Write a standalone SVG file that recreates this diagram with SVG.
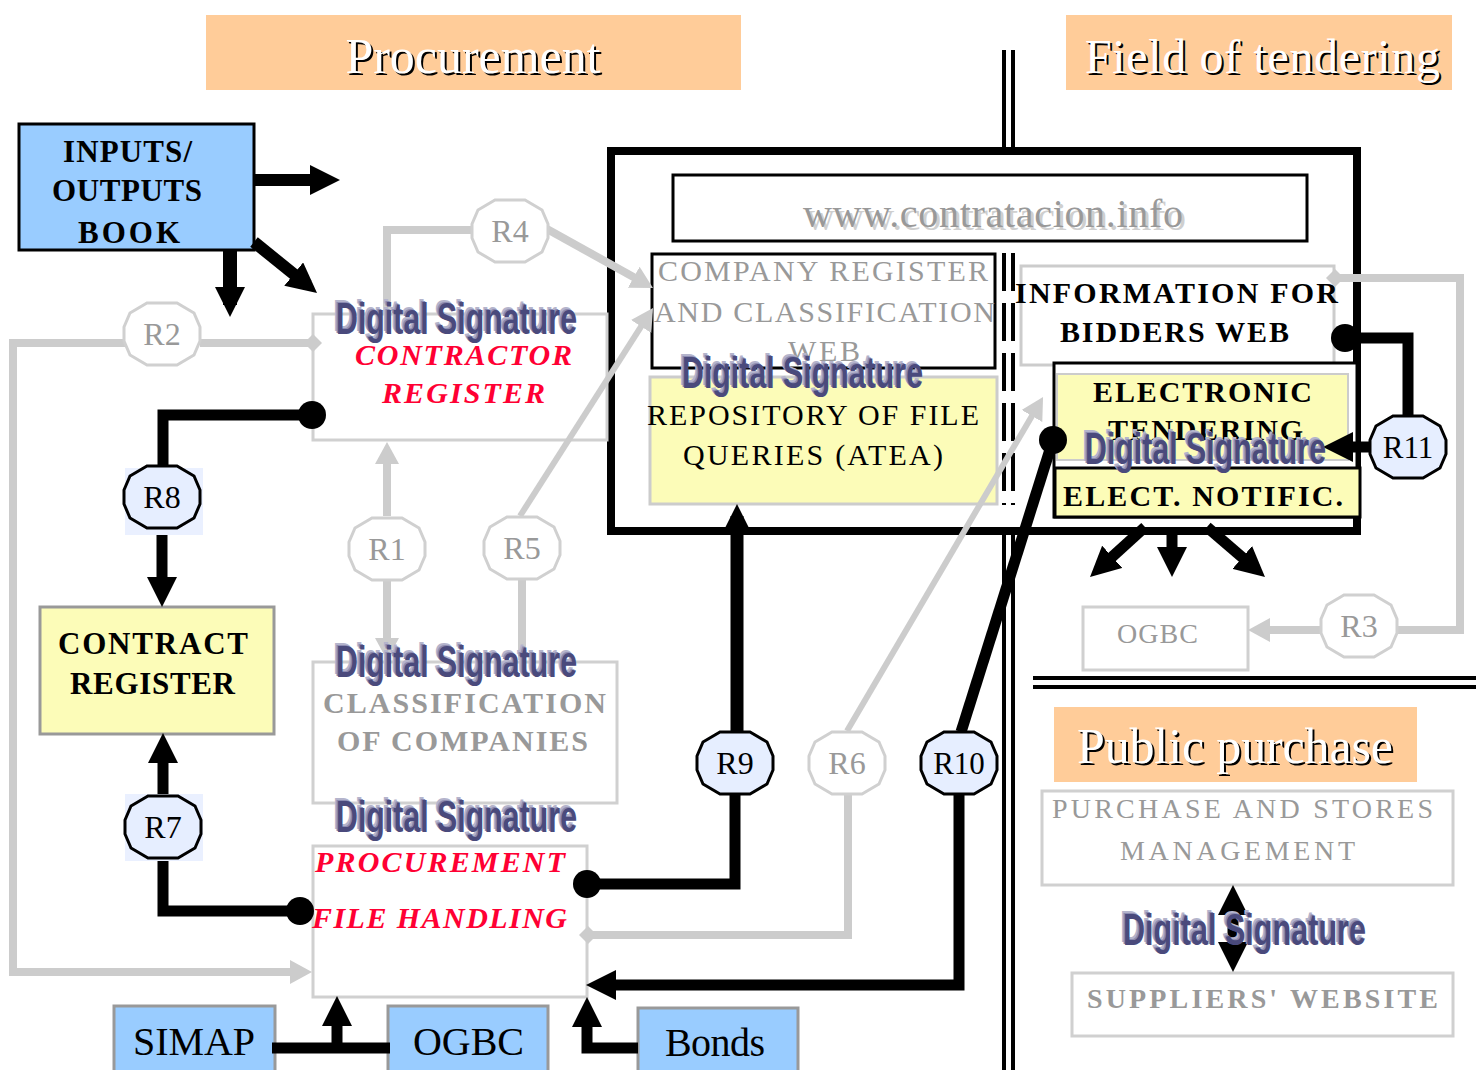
<svg xmlns="http://www.w3.org/2000/svg" xmlns:xlink="http://www.w3.org/1999/xlink" width="1476" height="1070" viewBox="0 0 1476 1070">
<defs>
<style>
.sf{font-family:"Liberation Serif","Times New Roman",serif}
.b{font-weight:bold}
.red{fill:#FF0033;font-weight:bold;font-style:italic}
.gt{fill:#999999}
.hdr{fill:#FFCC99}
.ht{font-family:"Liberation Serif","Times New Roman",serif;font-size:50px}
.bk{fill:none;stroke:#000;stroke-width:11}
.gr{fill:none;stroke:#CCCCCC;stroke-width:8}
.ds{font-family:"Liberation Sans Narrow","Liberation Sans",Arial,sans-serif;font-weight:bold;font-size:44px}
.ds1{fill:#B4B4CC}
.ds2{fill:#8C8CB2}
.ds3{fill:#4A4A7C}
.rb{fill:#E6EEFF;stroke:#000;stroke-width:3}
.rg{fill:#fff;stroke:#D0D0D0;stroke-width:3}
.ol{font-family:"Liberation Serif","Times New Roman",serif;font-size:32px;text-anchor:middle}
.div{stroke:#000;stroke-width:4;fill:none}
</style>
<polygon id="oct" points="-15,-31 15,-31 32,-21 38,-7 38,7 32,21 15,31 -15,31 -32,21 -38,7 -38,-7 -32,-21"/>
<marker id="ah" markerUnits="userSpaceOnUse" markerWidth="30" markerHeight="30" refX="18" refY="15" orient="auto-start-reverse" viewBox="0 0 30 30">
<path d="M0,0 L30,15 L0,30 z" fill="#000"/>
</marker>
<marker id="gah" markerUnits="userSpaceOnUse" markerWidth="22" markerHeight="24" refX="14" refY="12" orient="auto" viewBox="0 0 22 24">
<path d="M0,0 L22,12 L0,24 z" fill="#CCCCCC"/>
</marker>
<marker id="dot" markerUnits="userSpaceOnUse" markerWidth="30" markerHeight="30" refX="15" refY="15" viewBox="0 0 30 30">
<circle cx="15" cy="15" r="14" fill="#000"/>
</marker>
<marker id="gdot" markerUnits="userSpaceOnUse" markerWidth="20" markerHeight="20" refX="10" refY="10" viewBox="0 0 20 20">
<path d="M10,1 L19,10 L10,19 L1,10 z" fill="#CCCCCC"/>
</marker>
</defs>
<rect x="0" y="0" width="1476" height="1070" fill="#fff"/>

<g id="headers">
<rect class="hdr" x="206" y="15" width="535" height="75"/>
<text class="ht" x="475" y="75" text-anchor="middle" fill="#000" textLength="255">Procurement</text>
<text class="ht" x="473" y="73" text-anchor="middle" fill="#fff" textLength="255">Procurement</text>
<rect class="hdr" x="1066" y="15" width="386" height="75"/>
<text class="ht" x="1087" y="75" fill="#000" textLength="355" style="font-size:48px">Field of tendering</text>
<text class="ht" x="1085" y="73" fill="#fff" textLength="355" style="font-size:48px">Field of tendering</text>
<rect class="hdr" x="1054" y="707" width="363" height="75"/>
<text class="ht" x="1079" y="765" fill="#000" textLength="316">Public purchase</text>
<text class="ht" x="1077" y="763" fill="#fff" textLength="316">Public purchase</text>
</g>

<g id="dividers">
<line class="div" x1="1004" y1="50" x2="1004" y2="152"/>
<line class="div" x1="1013" y1="50" x2="1013" y2="152"/>
<line class="div" x1="1004" y1="253" x2="1004" y2="505" stroke-dasharray="38 12"/>
<line class="div" x1="1013" y1="253" x2="1013" y2="505" stroke-dasharray="38 12"/>
<line class="div" x1="1004" y1="532" x2="1004" y2="1070"/>
<line class="div" x1="1013" y1="532" x2="1013" y2="1070"/>
<line class="div" x1="1033" y1="678" x2="1476" y2="678"/>
<line class="div" x1="1033" y1="687" x2="1476" y2="687"/>
</g>

<g id="tendering-frame">
<rect x="611" y="151" width="746" height="380" fill="none" stroke="#000" stroke-width="8"/>
</g>

<g id="contratacion">
<rect x="673" y="175" width="634" height="66" fill="#fff" stroke="#000" stroke-width="3"/>
<text class="sf" x="806" y="230" font-size="40" fill="#CFCFCF" textLength="380">www.contratacion.info</text>
<text class="sf gt" x="803" y="227" font-size="40" textLength="380">www.contratacion.info</text>
</g>

<g id="company-register-web">
<rect x="652" y="254" width="343" height="114" fill="#fff" stroke="#000" stroke-width="3"/>
<text class="sf gt" font-size="30" x="658" y="281" textLength="330">COMPANY REGISTER</text>
<text class="sf gt" font-size="30" x="654" y="322" textLength="341">AND CLASSIFICATION</text>
<text class="sf gt" font-size="30" x="788" y="361" textLength="72">WEB</text>
</g>

<g id="repository">
<rect x="650" y="377" width="347" height="127" fill="#FCFCB8" stroke="#CCCCCC" stroke-width="3"/>
<text class="sf" font-size="30" x="647" y="425" textLength="332">REPOSITORY OF FILE</text>
<text class="sf" font-size="30" x="683" y="465" textLength="260">QUERIES (ATEA)</text>
</g>

<g id="information-bidders">
<rect x="1021" y="266" width="313" height="99" fill="#fff" stroke="#CCCCCC" stroke-width="3"/>
<text class="sf b" font-size="30" x="1015" y="303" textLength="323">INFORMATION FOR</text>
<text class="sf b" font-size="30" x="1060" y="342" textLength="229">BIDDERS WEB</text>
</g>

<g id="electronic-tendering">
<rect x="1054" y="363" width="303" height="154" fill="#fff" stroke="#000" stroke-width="3"/>
<rect x="1057" y="374" width="291" height="86" fill="#FCFCB8" stroke="#CCCCCC" stroke-width="2"/>
<text class="sf b" font-size="30" x="1093" y="402" textLength="219">ELECTRONIC</text>
<text class="sf b" font-size="30" x="1108" y="440" textLength="195">TENDERING</text>
</g>

<g id="elect-notific">
<rect x="1055" y="468" width="305" height="49" fill="#FCFCB8" stroke="#000" stroke-width="3"/>
<text class="sf b" font-size="30" x="1063" y="506" textLength="280">ELECT. NOTIFIC.</text>
</g>

<g id="ogbc-right">
<rect x="1083" y="607" width="165" height="63" fill="#fff" stroke="#D0D0D0" stroke-width="3"/>
<text class="sf gt" font-size="28" x="1117" y="643" textLength="81">OGBC</text>
</g>

<g id="purchase-stores">
<rect x="1042" y="791" width="411" height="94" fill="#fff" stroke="#D0D0D0" stroke-width="3"/>
<text class="sf gt" font-size="28" x="1052" y="818" textLength="381">PURCHASE AND STORES</text>
<text class="sf gt" font-size="28" x="1120" y="860" textLength="235">MANAGEMENT</text>
</g>

<g id="suppliers-website">
<rect x="1072" y="973" width="381" height="63" fill="#fff" stroke="#D0D0D0" stroke-width="3"/>
<text class="sf gt b" font-size="28" x="1087" y="1008" textLength="351">SUPPLIERS' WEBSITE</text>
</g>

<g id="inputs-outputs-book">
<rect x="19" y="124" width="235" height="126" fill="#99CCFF" stroke="#000" stroke-width="3"/>
<text class="sf b" font-size="31" x="63" y="162" textLength="129">INPUTS/</text>
<text class="sf b" font-size="31" x="52" y="201" textLength="150">OUTPUTS</text>
<text class="sf b" font-size="31" x="78" y="243" textLength="102">BOOK</text>
</g>

<g id="contractor-register">
<rect x="313" y="314" width="294" height="126" fill="#fff" stroke="#D0D0D0" stroke-width="3"/>
<text class="sf red" font-size="30" x="355" y="365" textLength="217">CONTRACTOR</text>
<text class="sf red" font-size="30" x="382" y="403" textLength="163">REGISTER</text>
</g>

<g id="contract-register">
<rect x="40" y="607" width="234" height="127" fill="#FCFCB8" stroke="#999999" stroke-width="3"/>
<text class="sf b" font-size="31" x="58" y="654" textLength="190">CONTRACT</text>
<text class="sf b" font-size="31" x="70" y="694" textLength="165">REGISTER</text>
</g>

<g id="classification-companies">
<rect x="313" y="662" width="304" height="141" fill="#fff" stroke="#D0D0D0" stroke-width="3"/>
<text class="sf gt b" font-size="30" x="323" y="713" textLength="283">CLASSIFICATION</text>
<text class="sf gt b" font-size="30" x="337" y="751" textLength="251">OF COMPANIES</text>
</g>

<g id="procurement-file">
<rect x="313" y="846" width="274" height="151" fill="#fff" stroke="#D0D0D0" stroke-width="3"/>
<text class="sf red" font-size="30" x="315" y="872" textLength="250">PROCUREMENT</text>
<text class="sf red" font-size="30" x="312" y="928" textLength="255">FILE HANDLING</text>
</g>

<g id="simap">
<rect x="114" y="1006" width="161" height="70" fill="#99CCFF" stroke="#999999" stroke-width="3"/>
<text class="sf" font-size="40" x="133" y="1055" textLength="122">SIMAP</text>
</g>
<g id="ogbc-bottom">
<rect x="388" y="1006" width="160" height="70" fill="#99CCFF" stroke="#999999" stroke-width="3"/>
<text class="sf" font-size="40" x="413" y="1055" textLength="111">OGBC</text>
</g>
<g id="bonds">
<rect x="638" y="1008" width="160" height="70" fill="#99CCFF" stroke="#999999" stroke-width="3"/>
<text class="sf" font-size="40" x="665" y="1056" textLength="100">Bonds</text>
</g>

<g id="connectors">
<path class="bk" style="stroke-width:12" d="M254,180 H328" marker-end="url(#ah)"/>
<path class="bk" style="stroke-width:14" d="M230,250 V305" marker-end="url(#ah)"/>
<path class="bk" style="stroke-width:12" d="M254,242 L307.7,285.4" marker-end="url(#ah)"/>
<path class="bk" d="M312,415 H163 V466" marker-start="url(#dot)"/>
<path class="bk" d="M162,528 V595" marker-end="url(#ah)"/>
<path class="bk" d="M163,795 V745" marker-end="url(#ah)"/>
<path class="bk" d="M163,858 V911 H300" marker-end="url(#dot)"/>
<path class="bk" style="stroke-width:13" d="M737,731 V516" marker-end="url(#ah)"/>
<path class="bk" d="M735,794 V884 H587" marker-end="url(#dot)"/>
<path class="bk" d="M961,732 L1053,440" marker-end="url(#dot)"/>
<path class="bk" d="M959,794 V985 H598" marker-end="url(#ah)"/>
<path class="bk" d="M1345,338 H1408 V416" marker-start="url(#dot)"/>
<path class="bk" d="M1370,447 H1335" marker-end="url(#ah)"/>
<path class="bk" d="M1145,527 L1098.9,568.9" marker-end="url(#ah)"/>
<path class="bk" d="M1172,527 V565" marker-end="url(#ah)"/>
<path class="bk" d="M1207,527 L1255.9,569.2" marker-end="url(#ah)"/>
<path class="bk" d="M272,1048 H390"/>
<path class="bk" d="M337,1048 V1008" marker-end="url(#ah)"/>
<path class="bk" d="M638,1048 H587 V1009" marker-end="url(#ah)"/>
<path class="bk" d="M1233,897 V960" marker-start="url(#ah)" marker-end="url(#ah)"/>
<path class="gr" d="M313,343 H200" marker-start="url(#gdot)"/>
<path class="gr" d="M125,343 H13 V972 H304" marker-end="url(#gah)"/>
<path class="gr" d="M387,314 V230 H472"/>
<path class="gr" d="M547,229 L646,284" marker-end="url(#gah)"/>
<path class="gr" style="stroke-width:6" d="M520,516 L648.7,314.7" marker-end="url(#gah)"/>
<path class="gr" d="M522,579 V660"/>
<path class="gr" d="M387,516 V450" marker-end="url(#gah)"/>
<path class="gr" d="M387,580 V652" marker-end="url(#gah)"/>
<path class="gr" style="stroke-width:6" d="M847,731 L1039,403.9" marker-end="url(#gah)"/>
<path class="gr" d="M848,794 V935 H588" marker-end="url(#gdot)"/>
<path class="gr" d="M1321,630 H1256" marker-end="url(#gah)"/>
<path class="gr" d="M1396,630 H1460 V278 H1335" marker-end="url(#gdot)"/>
</g>

<g id="R2"><use href="#oct" x="162" y="334" class="rg"/><text class="ol gt" x="162" y="345">R2</text></g>
<g id="R4"><use href="#oct" x="510" y="231" class="rg"/><text class="ol gt" x="510" y="242">R4</text></g>
<g id="R1"><use href="#oct" x="387" y="549" class="rg"/><text class="ol gt" x="387" y="560">R1</text></g>
<g id="R5"><use href="#oct" x="522" y="548" class="rg"/><text class="ol gt" x="522" y="559">R5</text></g>
<g id="R6"><use href="#oct" x="847" y="763" class="rg"/><text class="ol gt" x="847" y="774">R6</text></g>
<g id="R3"><use href="#oct" x="1359" y="626" class="rg"/><text class="ol gt" x="1359" y="637">R3</text></g>
<g id="R8"><rect x="125" y="468" width="78" height="67" fill="#EAF0FF"/><use href="#oct" x="162" y="497" class="rb"/><text class="ol" x="162" y="508">R8</text></g>
<g id="R7"><rect x="125" y="794" width="78" height="67" fill="#EAF0FF"/><use href="#oct" x="163" y="827" class="rb"/><text class="ol" x="163" y="838">R7</text></g>
<g id="R9"><use href="#oct" x="735" y="763" class="rb"/><text class="ol" x="735" y="774">R9</text></g>
<g id="R10"><use href="#oct" x="959" y="763" class="rb"/><text class="ol" x="959" y="774" style="font-size:31px">R10</text></g>
<g id="R11"><use href="#oct" x="1408" y="447" class="rb"/><text class="ol" x="1408" y="458" style="font-size:31px">R11</text></g>

<g id="digital-signatures">
<g transform="translate(333,331)">
<text class="ds ds1" x="0" y="0" textLength="241" lengthAdjust="spacingAndGlyphs">Digital Signature</text>
<text class="ds ds2" x="1.5" y="1.5" textLength="241" lengthAdjust="spacingAndGlyphs">Digital Signature</text>
<text class="ds ds3" x="3" y="3" textLength="241" lengthAdjust="spacingAndGlyphs">Digital Signature</text>
</g>
<g transform="translate(333,674)">
<text class="ds ds1" x="0" y="0" textLength="241" lengthAdjust="spacingAndGlyphs">Digital Signature</text>
<text class="ds ds2" x="1.5" y="1.5" textLength="241" lengthAdjust="spacingAndGlyphs">Digital Signature</text>
<text class="ds ds3" x="3" y="3" textLength="241" lengthAdjust="spacingAndGlyphs">Digital Signature</text>
</g>
<g transform="translate(333,829)">
<text class="ds ds1" x="0" y="0" textLength="241" lengthAdjust="spacingAndGlyphs">Digital Signature</text>
<text class="ds ds2" x="1.5" y="1.5" textLength="241" lengthAdjust="spacingAndGlyphs">Digital Signature</text>
<text class="ds ds3" x="3" y="3" textLength="241" lengthAdjust="spacingAndGlyphs">Digital Signature</text>
</g>
<g transform="translate(679,385)">
<text class="ds ds1" x="0" y="0" textLength="241" lengthAdjust="spacingAndGlyphs">Digital Signature</text>
<text class="ds ds2" x="1.5" y="1.5" textLength="241" lengthAdjust="spacingAndGlyphs">Digital Signature</text>
<text class="ds ds3" x="3" y="3" textLength="241" lengthAdjust="spacingAndGlyphs">Digital Signature</text>
</g>
<g transform="translate(1082,461)">
<text class="ds ds1" x="0" y="0" textLength="241" lengthAdjust="spacingAndGlyphs">Digital Signature</text>
<text class="ds ds2" x="1.5" y="1.5" textLength="241" lengthAdjust="spacingAndGlyphs">Digital Signature</text>
<text class="ds ds3" x="3" y="3" textLength="241" lengthAdjust="spacingAndGlyphs">Digital Signature</text>
</g>
<g transform="translate(1120,942)">
<text class="ds ds1" x="0" y="0" textLength="243" lengthAdjust="spacingAndGlyphs">Digital Signature</text>
<text class="ds ds2" x="1.5" y="1.5" textLength="243" lengthAdjust="spacingAndGlyphs">Digital Signature</text>
<text class="ds ds3" x="3" y="3" textLength="243" lengthAdjust="spacingAndGlyphs">Digital Signature</text>
</g>
</g>
</svg>
